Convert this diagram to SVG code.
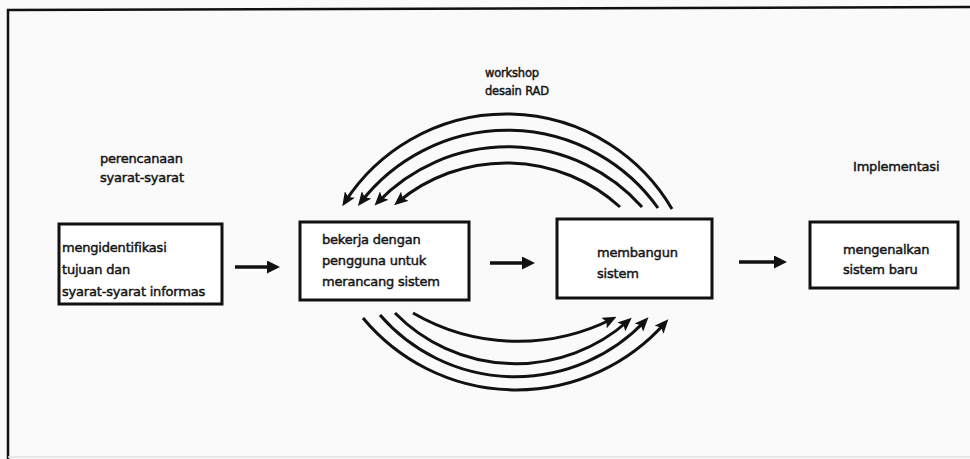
<svg xmlns="http://www.w3.org/2000/svg" width="970" height="459" viewBox="0 0 970 459">
<style>
.bg{fill:#fafafa}
.frame{fill:none;stroke:#111;stroke-width:2.5}
.box rect{fill:#fff;stroke:#111;stroke-width:3}
text{font-family:"DejaVu Sans","Verdana",sans-serif;font-size:13px;fill:#151515;stroke:#151515;stroke-width:0.45;letter-spacing:-0.2px}
.small{font-size:11.5px}
.conn path{fill:none;stroke:#111;stroke-width:3}
.conn line{stroke:#111;stroke-width:3.5}
</style>
<defs>
<marker id="ah" viewBox="0 0 14 12" refX="9" refY="6" markerWidth="14" markerHeight="12" markerUnits="userSpaceOnUse" orient="auto">
<path d="M0,0 L14,6 L0,12 L3,6 z" fill="#111"/>
</marker>
<marker id="ahs" viewBox="0 0 13 13" refX="4" refY="6.5" markerWidth="13" markerHeight="13" markerUnits="userSpaceOnUse" orient="auto">
<path d="M0,0 L13,6.5 L0,13 z" fill="#111"/>
</marker>
</defs>
<rect class="bg" x="0" y="0" width="970" height="459"/>
<path class="frame" d="M8,459 L8,10 L970,7"/>
<line x1="8" y1="457" x2="970" y2="457" stroke="#e2e2dc" stroke-width="1.5"/>

<text x="100" y="163">perencanaan</text>
<text x="100" y="182">syarat-syarat</text>
<text class="small" x="485" y="77">workshop</text>
<text class="small" x="485" y="95">desain RAD</text>
<text x="853" y="171">Implementasi</text>

<g id="node-identifikasi" class="box">
<rect x="59" y="224" width="163" height="80"/>
<text x="62" y="252">mengidentifikasi</text>
<text x="62" y="274">tujuan dan</text>
<text x="62" y="296">syarat-syarat informas</text>
</g>
<g id="node-bekerja" class="box">
<rect x="300" y="222" width="169" height="78"/>
<text x="322" y="244">bekerja dengan</text>
<text x="322" y="265">pengguna untuk</text>
<text x="322" y="286">merancang sistem</text>
</g>
<g id="node-membangun" class="box">
<rect x="557" y="219" width="155" height="79"/>
<text x="597" y="257">membangun</text>
<text x="597" y="278">sistem</text>
</g>
<g id="node-mengenalkan" class="box">
<rect x="810" y="222" width="148" height="66"/>
<text x="843" y="254">mengenalkan</text>
<text x="843" y="274">sistem baru</text>
</g>

<g id="connectors" class="conn">
<line x1="235" y1="267" x2="271" y2="267" marker-end="url(#ahs)"/>
<line x1="490" y1="263" x2="526" y2="263" marker-end="url(#ahs)"/>
<line x1="739" y1="262" x2="778" y2="262" marker-end="url(#ahs)"/>

<path d="M672,209 A192,192 0 0 0 345,202" marker-end="url(#ah)"/>
<path d="M658,208 A185,185 0 0 0 361,202" marker-end="url(#ah)"/>
<path d="M642,207 A180,180 0 0 0 378,202" marker-end="url(#ah)"/>
<path d="M620,207 A169,169 0 0 0 398,202" marker-end="url(#ah)"/>

<path d="M363,318 A199,199 0 0 0 665,323" marker-end="url(#ah)"/>
<path d="M380,315 A179,179 0 0 0 645,321" marker-end="url(#ah)"/>
<path d="M395,313 A169,169 0 0 0 628,321" marker-end="url(#ah)"/>
<path d="M413,313 A209,209 0 0 0 612,319" marker-end="url(#ah)"/>
</g>
</svg>
